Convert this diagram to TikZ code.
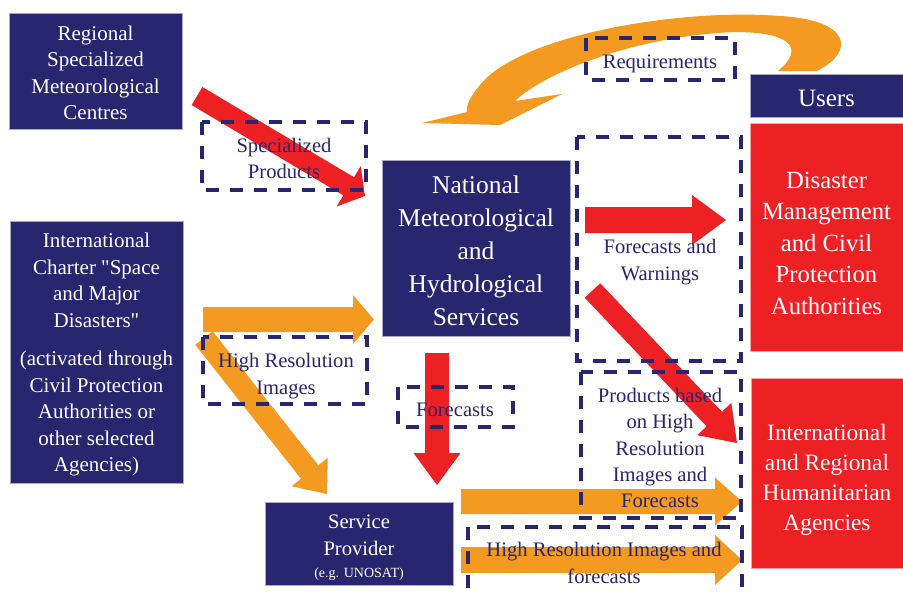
\documentclass[tikz,border=0pt]{standalone}
\usepackage{fontspec}
\setmainfont{Liberation Serif}[Ligatures=TeXOff]
\usetikzlibrary{calc}
\definecolor{navy}{RGB}{41,38,112}
\definecolor{wred}{RGB}{237,32,36}
\definecolor{worange}{RGB}{244,154,33}
\newcommand{\fatarrow}[6]{%
  \coordinate (aH) at ($(#3)!#6!(#2)$);
  \fill[#1] ($(#2)!#4!90:(#3)$) -- ($(aH)!#4!90:(#3)$) -- ($(aH)!#5!90:(#3)$) -- (#3)
    -- ($(aH)!#5!-90:(#3)$) -- ($(aH)!#4!-90:(#3)$) -- ($(#2)!#4!-90:(#3)$) -- cycle;}
\tikzset{
  navybox/.style={fill=navy, draw=navy!40!white, line width=0.5pt, inner sep=0pt},
  redbox/.style={fill=wred, draw=wred!40!white, line width=0.5pt, inner sep=0pt},
  dashbox/.style={draw=navy, line width=3.8pt, dash pattern=on 13pt off 11pt},
  wtext/.style={text=white, align=center, inner sep=0pt, font=\fontsize{21}{26.5}\selectfont},
  ntext/.style={text=navy, align=center, inner sep=0pt, font=\fontsize{20.6}{26.3}\selectfont}
}
\begin{document}
\begin{tikzpicture}[x=1pt,y=-1pt]
\useasboundingbox (0,0) rectangle (903,592);
\fill[white] (0,0) rectangle (903,592);

% curved requirements arrow
\fill[worange] (817,71) .. controls (855,52) and (852,20) .. (780,16)
  .. controls (680,8) and (520,35) .. (480,85)
  .. controls (470,97) and (466,105) .. (467,112) -- (422,123) -- (500,125) -- (562,94) -- (515,101)
  .. controls (540,76) and (630,36) .. (735,32)
  .. controls (790,32) and (806,48) .. (778,71) -- cycle;

% arrow end points
\coordinate (rsA) at (197,96);   \coordinate (rsB) at (365,196);
\coordinate (chA) at (203,319.5); \coordinate (chB) at (374,319.5);
\coordinate (cdA) at (204,338);  \coordinate (cdB) at (327,494);
\coordinate (ndA) at (437,353);  \coordinate (ndB) at (437,485);
\coordinate (fwA) at (585,220);  \coordinate (fwB) at (726,220);
\coordinate (pdA) at (592.5,290.5); \coordinate (pdB) at (737,443);
\coordinate (o1A) at (461,501.5); \coordinate (o1B) at (742,501.5);
\coordinate (o2A) at (461,560);  \coordinate (o2B) at (742,560);

\fatarrow{wred}{rsA}{rsB}{10.5pt}{23.5pt}{19pt}
\fatarrow{worange}{chA}{chB}{12.5pt}{24.5pt}{21pt}
\fatarrow{worange}{cdA}{cdB}{11pt}{23pt}{28pt}
\fatarrow{wred}{ndA}{ndB}{12pt}{23.5pt}{32pt}
\fatarrow{wred}{fwA}{fwB}{13pt}{25pt}{34pt}
\fatarrow{wred}{pdA}{pdB}{10.6pt}{23.5pt}{33pt}
\fatarrow{worange}{o1A}{o1B}{12.5pt}{24pt}{27pt}
\fatarrow{worange}{o2A}{o2B}{13pt}{25pt}{27pt}

% solid boxes
\node[navybox, minimum width=173pt, minimum height=116pt] (rsmc) at (95.5,71) {};
\node[navybox, minimum width=173pt, minimum height=262pt] (charter) at (96.5,352) {};
\node[navybox, minimum width=188pt, minimum height=176pt] (nmhs) at (476,248) {};
\node[navybox, minimum width=188pt, minimum height=83pt] (sp) at (359,543.5) {};
\node[navybox, minimum width=153pt, minimum height=43pt] (users) at (826.5,95.5) {};
\node[redbox, minimum width=153pt, minimum height=228pt] (dm) at (826.5,237) {};
\node[redbox, minimum width=152pt, minimum height=190pt] (irh) at (827,473) {};

% dashed boxes
\draw[dashbox] (586,38) rectangle (735,80);
\draw[dashbox] (202,122) rectangle (366,190);
\draw[dashbox] (203,337) rectangle (367,404);
\draw[dashbox] (398,387) rectangle (513,427);
\draw[dashbox] (577,137) rectangle (741,361);
\draw[dashbox] (581,372) rectangle (741,518);
\draw[dashbox] (468,527) rectangle (742,600);

% texts in solid boxes
\node[wtext] (rsmct) at (95.5,73) {Regional\\Specialized\\Meteorological\\Centres};
\node[wtext] (chartert) at (96.5,354.5) {International\\Charter "Space\\and Major\\Disasters"\\[12pt](activated through\\Civil Protection\\Authorities or\\other selected\\Agencies)};
\node[wtext, font=\fontsize{25.5}{33}\selectfont] (nmhst) at (476,250.5) {National\\Meteorological\\and\\Hydrological\\Services};
\node[wtext, font=\fontsize{20.6}{27}\selectfont] (spt) at (359,535.5) {Service\\Provider};
\node[wtext, font=\fontsize{14}{16}\selectfont] (spt2) at (359,574) {(e.g. UNOSAT)};
\node[wtext, font=\fontsize{25}{30}\selectfont] (userst) at (826.5,98) {Users};
\node[wtext, font=\fontsize{24.7}{31.5}\selectfont] (dmt) at (826.5,243) {Disaster\\Management\\and Civil\\Protection\\Authorities};
\node[wtext, font=\fontsize{23.4}{30}\selectfont] (irht) at (827,480) {International\\and Regional\\Humanitarian\\Agencies};

% texts in dashed boxes
\node[ntext] (req) at (660,64) {Requirements};
\node[ntext] (spec) at (284,158.5) {Specialized\\Products};
\node[ntext] (hri) at (286,376) {High Resolution\\Images};
\node[ntext] (fc) at (455,410) {Forecasts};
\node[ntext] (fw) at (660,262) {Forecasts and\\Warnings};
\node[ntext] (pb) at (660,448) {Products based\\on High\\Resolution\\Images and\\Forecasts};
\node[ntext] (hrf) at (604,563) {High Resolution Images and\\forecasts};
\end{tikzpicture}
\end{document}
